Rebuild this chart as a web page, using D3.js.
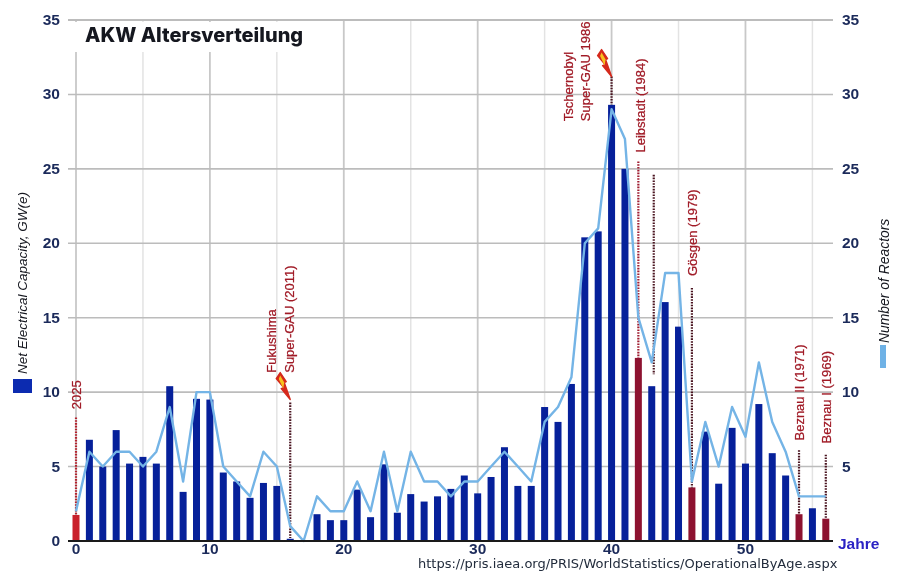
<!DOCTYPE html>
<html><head><meta charset="utf-8">
<script src="https://cdn.jsdelivr.net/npm/d3@7"></script>
<style>
html,body{margin:0;padding:0;background:#fff;overflow:hidden}
svg{display:block;filter:blur(0.45px)}
text{font-family:"Liberation Sans",Arial,sans-serif}
</style></head><body>
<svg id="c" width="899" height="571"></svg>
<script>
const capacity=[1.75,6.8,5.0,7.45,5.2,5.65,5.2,10.4,3.3,9.55,9.5,4.6,4.0,2.9,3.9,3.7,0.15,0,1.8,1.4,1.4,3.45,1.6,5.15,1.9,3.15,2.65,3.0,3.5,4.4,3.2,4.3,6.3,3.7,3.7,9.0,8.0,10.55,20.4,20.8,29.3,25,12.3,10.4,16.05,14.4,3.6,7.35,3.85,7.6,5.2,9.2,5.9,4.4,1.8,2.2,1.5];
const reactors=[2,6,5,6,6,5,6,9,4,10,10,5,4,3,6,5,1,0,3,2,2,4,2,6,2,6,4,4,3,4,4,5,6,5,4,8,9,11,20,21,29,27,15,12,18,18,4,8,5,9,7,12,8,6,3,3,3];
const swissYears=[42,46,54,56];
const currentYear=[0];
const yTicks=[0,5,10,15,20,25,30,35];
const yTicksRight=[5,10,15,20,25,30,35];
const xLabelTicks=[0,10,20,30,40,50];
const xGridMajor=[0,10,20,30,40,50];
const xGridMinor=[5,15,25,35,45,55];
const dropLines=[
 {age:0,from:8.3,to:1.8,color:"#b5202c"},
 {age:16,from:9.3,to:0.2,color:"#4a1420"},
 {age:40,from:31.2,to:29.3,color:"#4a1420"},
 {age:42,from:25.5,to:12.3,color:"#a01c30"},
 {age:43.15,from:24.6,to:11.2,color:"#4a1420"},
 {age:46,from:17,to:3.6,color:"#4a1420"},
 {age:54,from:6.1,to:1.8,color:"#4a1420"},
 {age:56,from:5.8,to:1.5,color:"#4a1420"}
];
const labels=[
 {age:0,val:8.85,lines:["2025"]},
 {age:16,val:11.3,lines:["Fukushima","Super-GAU (2011)"],shift:-19},
 {age:40,val:28.2,lines:["Tschernobyl","Super-GAU 1986"],shift:-44},
 {age:42.1,val:26.1,lines:["Leibstadt (1984)"]},
 {age:46,val:17.8,lines:["Gösgen (1979)"]},
 {age:54,val:6.75,lines:["Beznau II (1971)"]},
 {age:56,val:6.55,lines:["Beznau I (1969)"]}
];
const bolts=[{age:16,val:9.5},{age:40,val:31.2}];

const svg=d3.select("#c");
const x=d3.scaleLinear().domain([0,56]).range([76,825.8]);
const y=d3.scaleLinear().domain([0,35]).range([541,20]);

const grid=svg.append("g");
grid.selectAll(".minor").data(xGridMinor).join("line")
 .attr("x1",d=>x(d)).attr("x2",d=>x(d)).attr("y1",y(35)).attr("y2",y(0))
 .attr("stroke","#e3e3e3").attr("stroke-width",1.5);
grid.selectAll(".major").data(xGridMajor).join("line")
 .attr("x1",d=>x(d)).attr("x2",d=>x(d)).attr("y1",y(35)).attr("y2",y(0))
 .attr("stroke","#c8c8c8").attr("stroke-width",1.8);
grid.selectAll(".h").data(yTicks.slice(1)).join("line")
 .attr("x1",68).attr("x2",833).attr("y1",d=>y(d)).attr("y2",d=>y(d))
 .attr("stroke","#bcbcbc").attr("stroke-width",d=>d===35?2.2:1.6);

// white panel behind title hides the grid
svg.append("rect").attr("x",x(0)-3).attr("y",y(35)+2).attr("width",236).attr("height",30).attr("fill","#fff");

const barColor=(d,i)=>currentYear.includes(i)?"#c9202b":swissYears.includes(i)?"#8d1230":"#06209a";
svg.append("g").selectAll("rect").data(capacity).join("rect")
 .attr("x",(d,i)=>x(i)-3.5).attr("width",7)
 .attr("y",d=>y(d)).attr("height",d=>y(0)-y(d))
 .attr("fill",barColor);

// dotted drop lines
svg.append("g").selectAll("line").data(dropLines).join("line")
 .attr("x1",d=>x(d.age)).attr("x2",d=>x(d.age))
 .attr("y1",d=>y(d.from)).attr("y2",d=>y(d.to))
 .attr("stroke",d=>d.color).attr("stroke-width",2.2).attr("stroke-dasharray","1.6 1.2");

// reactor line
svg.append("path").datum(reactors)
 .attr("d",d3.line().x((d,i)=>x(i)).y(d=>y(d)))
 .attr("fill","none").attr("stroke","#74b4e6").attr("stroke-width",2.4).attr("stroke-linejoin","round");

// baseline
svg.append("line").attr("x1",68).attr("x2",833).attr("y1",y(0)).attr("y2",y(0)).attr("stroke","#1a1a1a").attr("stroke-width",2);

// tick labels
const tickStyle=s=>s.attr("font-weight","700").attr("font-size",15.5).attr("fill","#1b2a5a");
svg.append("g").selectAll("text").data(yTicks).join("text").call(tickStyle)
 .attr("x",60).attr("y",d=>y(d)+5).attr("text-anchor","end").text(d=>d);
svg.append("g").selectAll("text").data(yTicksRight).join("text").call(tickStyle)
 .attr("x",842).attr("y",d=>y(d)+5).attr("text-anchor","start").text(d=>d);
svg.append("g").selectAll("text").data(xLabelTicks).join("text").call(tickStyle)
 .attr("x",d=>x(d)).attr("y",554).attr("text-anchor","middle").text(d=>d);

svg.append("text").attr("x",838).attr("y",549).attr("font-weight","700").attr("font-size",15.5)
 .attr("fill","#2a22c4").text("Jahre");

svg.append("text").attr("x",85).attr("y",42).style("font-family","Inter, sans-serif")
 .attr("font-weight","800").attr("font-size",20).attr("fill","#15171f").text("AKW Altersverteilung");

svg.append("text").attr("x",418).attr("y",568).style("font-family","'DejaVu Sans',sans-serif")
 .attr("font-size",13).attr("fill","#222c3c").text("https://pris.iaea.org/PRIS/WorldStatistics/OperationalByAge.aspx");

// axis titles + legend swatches
svg.append("text").attr("transform","translate(27,374) rotate(-90)").attr("font-style","italic")
 .attr("font-size",13.5).attr("fill","#15171f").text("Net Electrical Capacity, GW(e)");
svg.append("rect").attr("x",13).attr("y",379).attr("width",19).attr("height",14).attr("fill","#0c2bb0");
svg.append("text").attr("transform","translate(889,343) rotate(-90)").attr("font-style","italic")
 .attr("font-size",13.9).attr("fill","#15171f").text("Number of Reactors");
svg.append("rect").attr("x",880).attr("y",345).attr("width",6).attr("height",23).attr("fill","#6fb2e6");

// rotated annotation labels
const lab=svg.append("g").selectAll("g").data(labels).join("g")
 .attr("transform",d=>`translate(${x(d.age)+(d.shift||0)},${y(d.val)}) rotate(-90)`);
lab.selectAll("text").data(d=>d.lines).join("text")
 .attr("x",0).attr("y",(d,i)=>i*17.5+5).attr("font-size",13).attr("fill","#a01a26")
 .attr("stroke","#a01a26").attr("stroke-width",0.25).text(d=>d);

// lightning bolts
const bolt=svg.append("g").selectAll("g").data(bolts).join("g")
 .attr("transform",d=>`translate(${x(d.age)},${y(d.val)})`);
bolt.append("path")
 .attr("d","M0 0 L-9 -11 L-6.5 -12 L-14 -21 L-10 -27 L-4 -18 L-6 -17 Z")
 .attr("fill","#d8281c").attr("stroke","#d42a1c").attr("stroke-width",1.4).attr("stroke-linejoin","round");
bolt.append("path")
 .attr("d","M-7 -11 L-11.5 -20.5 L-10 -24 L-6 -17 Z")
 .attr("fill","#f6c21f");
</script>
</body></html>
